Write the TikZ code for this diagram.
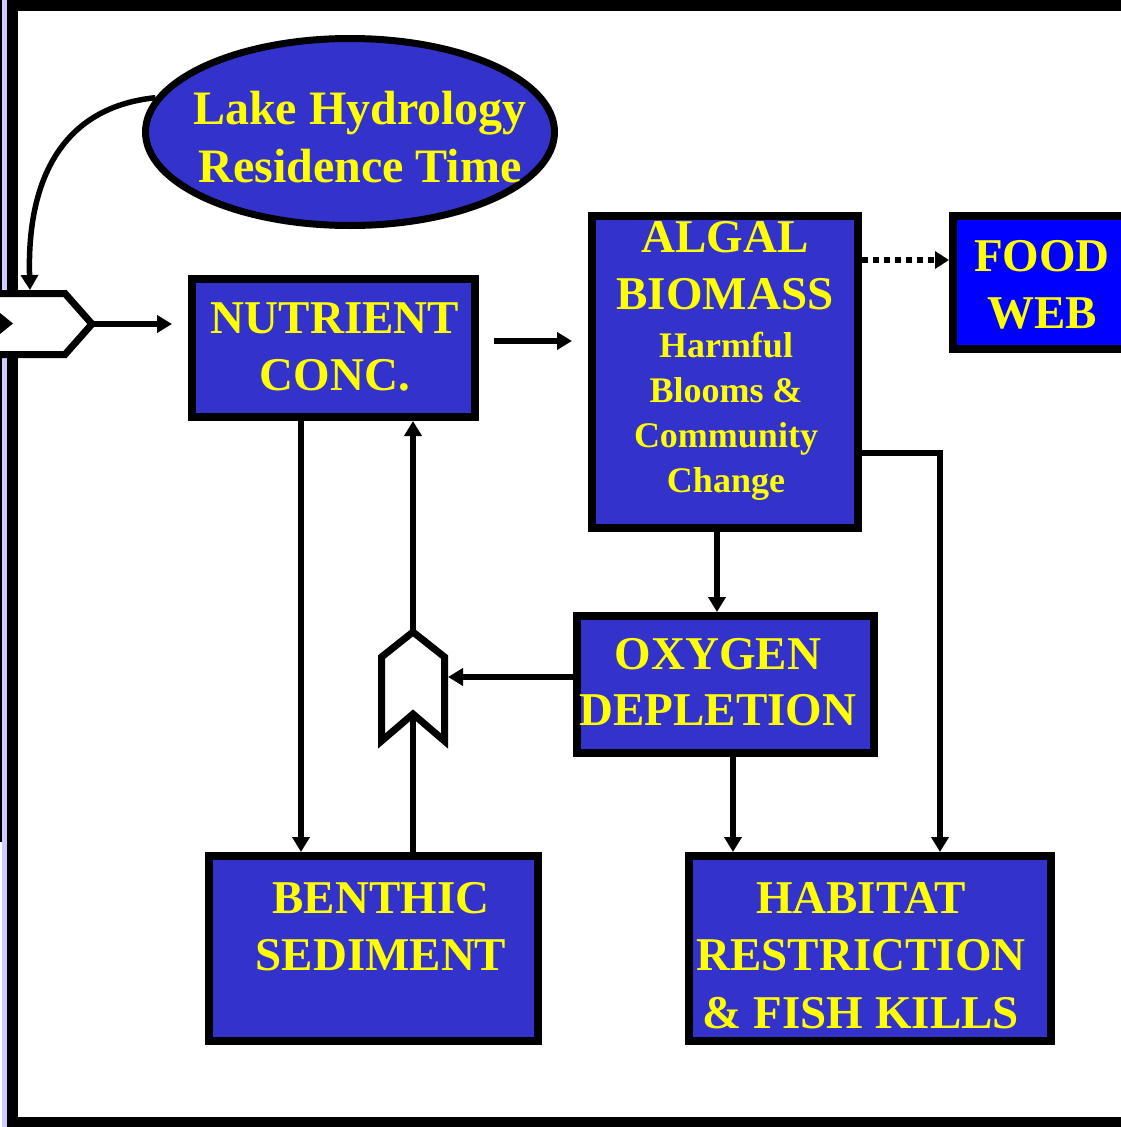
\documentclass[tikz,border=0pt]{standalone}
\usepackage{fontspec}
\setmainfont{Liberation Serif}
\usetikzlibrary{arrows.meta,shapes.geometric}
\definecolor{boxblue}{RGB}{51,51,204}
\definecolor{foodblue}{RGB}{0,0,255}
\definecolor{txtyellow}{RGB}{255,255,0}
\definecolor{lav}{RGB}{204,204,255}
\begin{document}
\begin{tikzpicture}[x=1pt,y=-1pt,
 box/.style={draw=black, line width=8pt, fill=boxblue, rectangle, inner sep=0pt},
 lbl/.style={text=txtyellow, font=\bfseries\fontsize{47}{57}\selectfont, align=center, inner sep=0pt},
 arr/.style={line width=5.5pt, -{Triangle[length=15pt,width=17pt]}},
 link/.style={line width=5.5pt},
 chev/.style={draw=black, line width=7pt, fill=white, line join=miter}
]
\useasboundingbox (0,0) rectangle (1121,1127);
\fill[white] (0,0) rectangle (1121,1127);
\fill[lav] (2,0) rectangle (7,1127);
\fill[black] (0,0) rectangle (2,842);
\draw[line width=11pt] (12.5,5) rectangle (1140,1122.5);

% nodes
\node[draw, line width=7pt, fill=boxblue, ellipse, minimum width=409pt, minimum height=187pt, inner sep=0pt] (lake) at (350,132) {};
\node[lbl, font=\bfseries\fontsize{48}{58}\selectfont] (laketxt) at (360,137) {Lake Hydrology\\Residence Time};

\node[box, minimum width=283pt, minimum height=138pt] (nut) at (333.5,348) {};
\node[lbl] (nuttxt) at (335,347) {NUTRIENT\\CONC.};

\node[box, minimum width=266pt, minimum height=312pt] (alg) at (725,372) {};
\node[lbl] (algtxt1) at (725,265.5) {ALGAL\\BIOMASS};
\node[lbl, font=\bfseries\fontsize{36}{45}\selectfont] (algtxt2) at (726,416) {Harmful\\Blooms \&\\Community\\Change};

\node[box, fill=foodblue, minimum width=178pt, minimum height=133pt] (food) at (1042,282.5) {};
\node[lbl] (foodtxt) at (1042,284.5) {FOOD\\WEB};

\node[box, minimum width=297pt, minimum height=137pt] (oxy) at (725.5,684.5) {};
\node[lbl, font=\bfseries\fontsize{47}{56}\selectfont] (oxytxt) at (718,682) {OXYGEN\\DEPLETION};

\node[box, minimum width=329pt, minimum height=185pt] (ben) at (373.5,948.5) {};
\node[lbl] (bentxt) at (381,926.5) {BENTHIC\\SEDIMENT};

\node[box, minimum width=362pt, minimum height=185pt] (hab) at (870,948.5) {};
\node[lbl, font=\bfseries\fontsize{47}{57.5}\selectfont] (habtxt) at (861,955.5) {HABITAT\\RESTRICTION\\\& FISH KILLS};

% left chevron
\coordinate (c1tip) at (92,324);
\coordinate (c1top) at (30,290);
\draw[chev] (-10,293.5) -- (65,293.5) -- (c1tip) -- (65,354.5) -- (-10,354.5) -- cycle;
\fill[black] (0,313) -- (13,323.5) -- (0,334) -- cycle;

% middle chevron coordinates
\coordinate (c2tip) at (413,632);
\coordinate (c2notch) at (413,714);
\coordinate (c2right) at (448,677);

% connectors
\draw[arr] (lake.170) .. controls (55,108) and (27,190) .. (c1top);
\draw[arr, shorten >=16pt] (c1tip) -- (c1tip -| nut.west);
\draw[arr, shorten <=15pt, shorten >=16pt] ([yshift=7pt]nut.east) -- ([yshift=7pt]nut.east -| alg.west);
\draw[line width=6pt, dash pattern=on 6pt off 5pt, -{Triangle[length=14pt,width=17pt]}] ([yshift=22.5pt]food.west -| alg.east) -- ([yshift=22.5pt]food.west);
\draw[arr] ([xshift=-8pt]alg.south) -- ([xshift=-8pt]alg.south |- oxy.north);
\draw[arr] ([yshift=7.5pt]oxy.west) -- (c2right);
\draw[arr] (c2tip) -- (c2tip |- nut.south);
\draw[link] (c2notch |- ben.north) -- (c2notch);
\draw[arr] ([xshift=-32.5pt]nut.south) -- ([xshift=-32.5pt]nut.south |- ben.north);
\draw[arr] ([xshift=7.5pt]oxy.south) -- ([xshift=7.5pt]oxy.south |- hab.north);
\draw[arr] ([yshift=-81pt]alg.east) -| ([xshift=70pt]hab.north);

\draw[chev] (c2tip) -- (444.5,657) -- (444.5,741) -- (c2notch) -- (381.5,741) -- (381.5,657) -- cycle;
\end{tikzpicture}
\end{document}
